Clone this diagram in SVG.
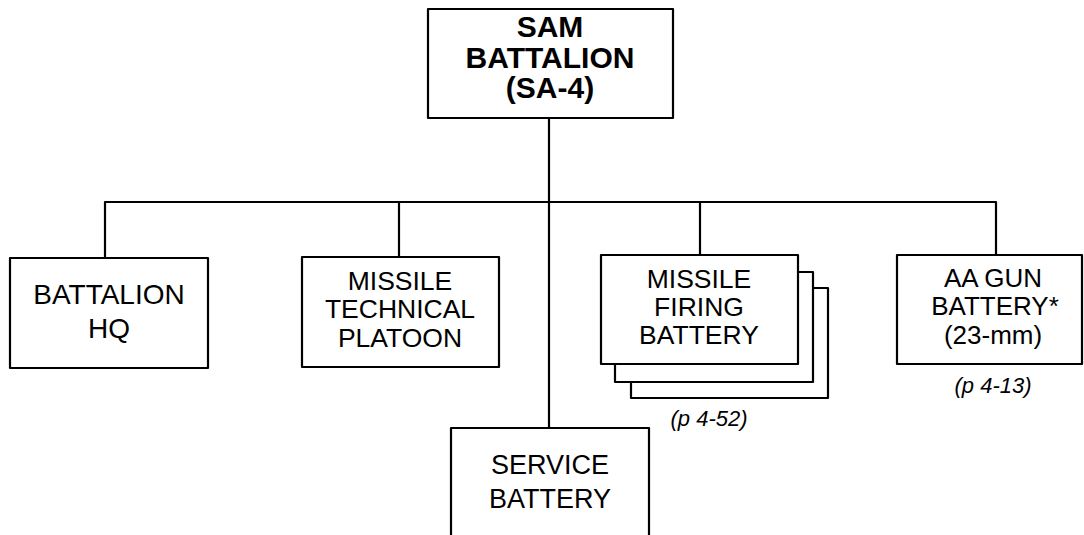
<svg xmlns="http://www.w3.org/2000/svg" width="1084" height="535" viewBox="0 0 1084 535">
<style>
.box{fill:#fff;stroke:#000;stroke-width:2.2;stroke-linejoin:round}
.ln{fill:none;stroke:#000;stroke-width:2.2;stroke-linejoin:round}
text{font-family:"Liberation Sans",Arial,sans-serif;fill:#000;text-anchor:middle}
.t{font-size:26.5px}
.l{font-size:28px}
.a{font-size:27px}
.g{font-size:26px}
.h{font-size:30px;font-weight:bold}
.p{font-size:22px;font-style:italic}
</style>
<rect width="1084" height="535" fill="#fff"/>
<g id="connectors">
<path class="ln" d="M549 118 V428"/>
<path class="ln" d="M105 258 V202 H996 V255"/>
<path class="ln" d="M399 202 V257"/>
<path class="ln" d="M700 202 V255"/>
</g>
<g id="sam-battalion">
<rect class="box" x="428" y="9" width="245" height="109"/>
<text class="h" x="550" y="37">SAM</text>
<text class="h" x="550" y="68">BATTALION</text>
<text class="h" x="550" y="98">(SA-4)</text>
</g>
<g id="battalion-hq">
<rect class="box" x="10" y="258" width="198" height="110"/>
<text class="l" x="109" y="304">BATTALION</text>
<text class="l" x="109" y="338">HQ</text>
</g>
<g id="missile-technical-platoon">
<rect class="box" x="302" y="257" width="197" height="110"/>
<text class="t" x="400" y="290">MISSILE</text>
<text class="t" x="400" y="318">TECHNICAL</text>
<text class="t" x="400" y="347">PLATOON</text>
</g>
<g id="missile-firing-battery">
<rect class="box" x="631" y="288" width="197" height="110"/>
<rect class="box" x="615" y="272" width="198" height="110"/>
<rect class="box" x="601" y="255" width="197" height="109"/>
<text class="t" x="699" y="288">MISSILE</text>
<text class="t" x="699" y="316">FIRING</text>
<text class="t" x="699" y="344">BATTERY</text>
<text class="p" x="709" y="426">(p 4-52)</text>
</g>
<g id="aa-gun-battery">
<rect class="box" x="897" y="255" width="185" height="109"/>
<text class="g" x="993" y="287">AA GUN</text>
<text class="g" x="995" y="315">BATTERY*</text>
<text class="g" x="993" y="344">(23-mm)</text>
<text class="p" x="993" y="393">(p 4-13)</text>
</g>
<g id="service-battery">
<rect class="box" x="451" y="428" width="198" height="120"/>
<text class="a" x="550" y="474">SERVICE</text>
<text class="a" x="550" y="508">BATTERY</text>
</g>
</svg>
